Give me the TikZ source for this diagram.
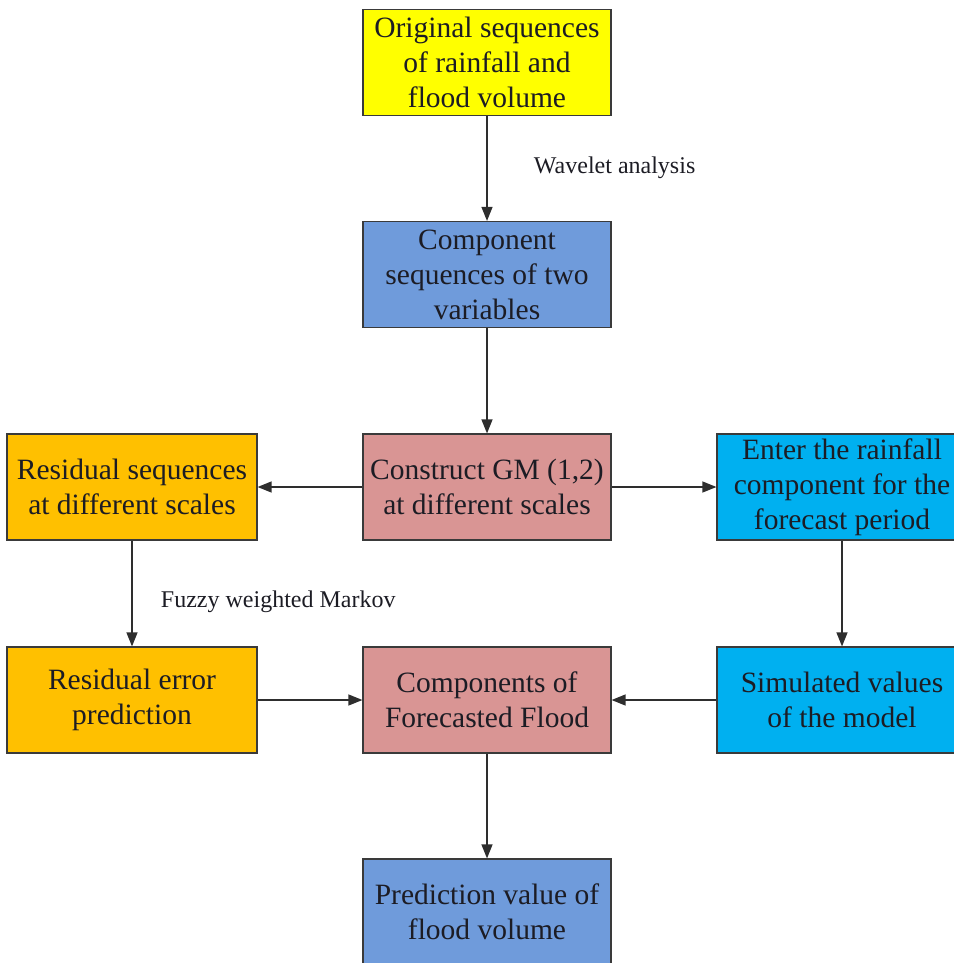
\documentclass[tikz,border=0pt]{standalone}
\usepackage{fontspec}
\setmainfont{Liberation Serif}
\usetikzlibrary{arrows.meta,positioning}
\definecolor{cyel}{HTML}{FFFF00}
\definecolor{cblue}{HTML}{6F9BDB}
\definecolor{cpink}{HTML}{D99594}
\definecolor{corange}{HTML}{FFC000}
\definecolor{ccyan}{HTML}{00B0F0}
\definecolor{cedge}{HTML}{3A3A3A}
\definecolor{ctext}{HTML}{1C1C24}
\begin{document}
\begin{tikzpicture}[x=1pt,y=-1pt,
  box/.style={draw=cedge,line width=1.2pt,minimum width=248pt,minimum height=106pt,
    inner sep=0pt,align=center,text=ctext,font=\fontsize{29.5}{35}\selectfont},
  conn/.style={draw=cedge!80!black,line width=1.3pt,-{Triangle[length=14pt,width=11pt]}},
  lbl/.style={text=ctext,font=\fontsize{24}{28}\selectfont}]
\useasboundingbox (0,0) rectangle (953,963);
\node[box,fill=cyel] (orig) at (487,62.5) {Original sequences\\of rainfall and\\flood volume};
\node[box,fill=cblue] (comp) at (487,274.5) {Component\\sequences of two\\variables};
\node[box,fill=cpink] (gm) at (487,487) {Construct GM (1,2)\\at different scales};
\node[box,fill=corange,minimum width=250pt] (resid) at (132,487) {Residual sequences\\at different scales};
\node[box,fill=ccyan,minimum width=250pt] (enter) at (842,487) {Enter the rainfall\\component for the\\forecast period};
\node[box,fill=corange,minimum width=250pt] (rerr) at (132,700) {Residual error\\prediction};
\node[box,fill=cpink] (cff) at (487,700) {Components of\\Forecasted Flood};
\node[box,fill=ccyan,minimum width=250pt] (sim) at (842,700) {Simulated values\\of the model};
\node[box,fill=cblue] (pred) at (487,912) {Prediction value of\\flood volume};
\draw[conn] (orig) -- node[lbl,pos=0.49,anchor=west,xshift=43pt] (wav) {Wavelet analysis} (comp);
\draw[conn] (comp) -- (gm);
\draw[conn] (gm) -- (resid);
\draw[conn] (gm) -- (enter);
\draw[conn] (resid) -- node[lbl,pos=0.58,anchor=west,xshift=25pt] (fz) {Fuzzy weighted Markov} (rerr);
\draw[conn] (enter) -- (sim);
\draw[conn] (rerr) -- (cff);
\draw[conn] (sim) -- (cff);
\draw[conn] (cff) -- (pred);
\end{tikzpicture}
\end{document}
